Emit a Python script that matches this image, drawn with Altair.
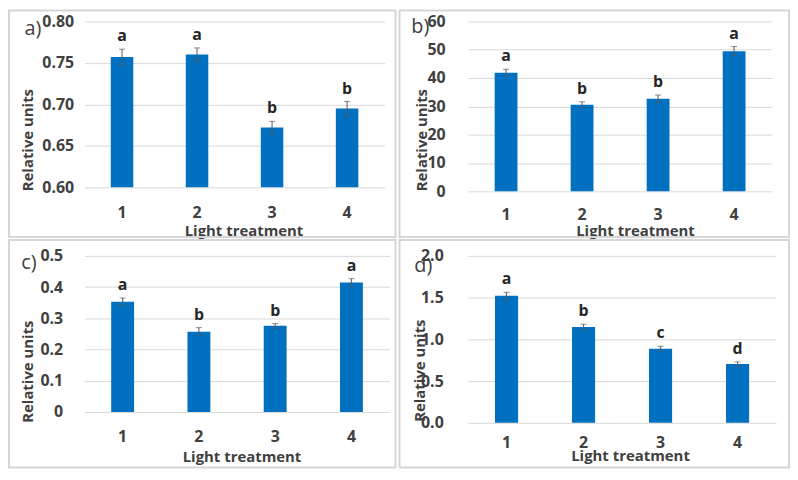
import altair as alt
import pandas as pd

treatments = ["1", "2", "3", "4"]

a_values = [0.757, 0.760, 0.672, 0.695]
a_errors = [0.0095, 0.008, 0.0075, 0.0085]
a_letters = ["a", "a", "b", "b"]
a_ticks = [0.60, 0.65, 0.70, 0.75, 0.80]

b_values = [41.9, 30.6, 32.7, 49.5]
b_errors = [1.2, 1.0, 1.3, 1.6]
b_letters = ["a", "b", "b", "a"]
b_ticks = [0, 10, 20, 30, 40, 50, 60]

c_values = [0.353, 0.257, 0.276, 0.415]
c_errors = [0.012, 0.013, 0.007, 0.012]
c_letters = ["a", "b", "b", "a"]
c_ticks = [0, 0.1, 0.2, 0.3, 0.4, 0.5]

d_values = [1.521, 1.148, 0.887, 0.705]
d_errors = [0.043, 0.033, 0.030, 0.025]
d_letters = ["a", "b", "c", "d"]
d_ticks = [0.0, 0.5, 1.0, 1.5, 2.0]

FONT = "Open Sans"
TEXT = "#404040"
BAR = "#0070C0"
GRID = "#D9D9D9"
ERR = "#595959"
BORDER = "#D6D6D6"


def panel(tag, values, errors, letters, ticks, fmt, w, h, lab_xy, box,
          ytitle_xy, xtitle_xy, ylabpad, xlabpad):
    df = pd.DataFrame({
        "t": treatments,
        "v": values,
        "lo": [v - e for v, e in zip(values, errors)],
        "hi": [v + e for v, e in zip(values, errors)],
        "letter": letters,
    })
    yscale = alt.Scale(domain=[ticks[0], ticks[-1]], nice=False, zero=False)
    yaxis = alt.Axis(values=ticks, format=fmt, grid=True, gridColor=GRID,
                     gridWidth=1, domain=False, ticks=False,
                     labelFont=FONT, labelFontSize=16, labelFontWeight="bold",
                     labelColor=TEXT, labelPadding=ylabpad,
                     titleFont=FONT, titleFontSize=15, titleFontWeight="bold",
                     titleColor=TEXT, titleX=ytitle_xy[0], titleY=ytitle_xy[1],
                     titleAngle=270, titleAlign="center", titleBaseline="middle")
    xaxis = alt.Axis(labelAngle=0, domain=False, ticks=False, grid=False,
                     labelFont=FONT, labelFontSize=16, labelFontWeight="bold",
                     labelColor=TEXT, labelPadding=xlabpad, labelBaseline="middle",
                     titleFont=FONT, titleFontSize=15, titleFontWeight="bold",
                     titleColor=TEXT, titleX=xtitle_xy[0], titleY=xtitle_xy[1],
                     titleAlign="center", titleBaseline="middle")
    x = alt.X("t:N", scale=alt.Scale(paddingInner=0.7, paddingOuter=0.35),
              axis=xaxis, title="Light treatment")

    def Y(field):
        return alt.Y(field, type="quantitative", scale=yscale, axis=yaxis,
                     title="Relative units")

    base = alt.Chart(df).encode(x=x)
    bars = base.mark_bar(color=BAR).encode(y=Y("v"), y2=alt.datum(ticks[0]))
    rule = base.mark_rule(color=ERR, strokeWidth=1).encode(y=Y("lo"), y2="hi:Q")
    cap_hi = base.mark_tick(color=ERR, size=6, thickness=1).encode(y=Y("hi"))
    cap_lo = base.mark_tick(color=ERR, size=6, thickness=1).encode(y=Y("lo"))
    letters_t = base.mark_text(font=FONT, fontSize=16, fontWeight="bold",
                               color="#262626", baseline="alphabetic",
                               dy=-8).encode(y=Y("hi"), text="letter:N")
    lab = alt.Chart(pd.DataFrame({"lab": [tag]})).mark_text(
        font=FONT, fontSize=20, color=TEXT, align="center", baseline="middle"
    ).encode(x=alt.value(lab_xy[0]), y=alt.value(lab_xy[1]), text="lab:N")
    border = alt.Chart(pd.DataFrame({"k": [0]})).mark_rect(
        fillOpacity=0, stroke=BORDER, strokeWidth=2
    ).encode(x=alt.value(box[0]), x2=alt.value(box[1]),
             y=alt.value(box[2]), y2=alt.value(box[3]))
    return alt.layer(border, bars, rule, cap_hi, cap_lo, letters_t, lab).properties(
        width=w, height=h)


pa = panel("a)", a_values, a_errors, a_letters, a_ticks, ".2f", 302, 167,
           (-52, 8), (-76, 313, -11, 217), (-57, 119), (160, 43), 11, 25)
pb = panel("b)", b_values, b_errors, b_letters, b_ticks, "d", 306, 171,
           (-48, 6), (-69, 323, -11, 217), (-47, 119), (168, 39), 23, 23)
pc = panel("c)", c_values, c_errors, c_letters, c_ticks, "~g", 307, 157,
           (-56, 7), (-76, 313, -16, 213), (-57, 116), (158, 45), 22, 25)
pd_ = panel("d)", d_values, d_errors, d_letters, d_ticks, ".1f", 310, 168,
            (-45, 10), (-69, 323, -16, 213), (-48.5, 115), (163, 33), 25, 20)

chart = alt.concat(pa, pb, pc, pd_, columns=2,
                   spacing={"row": 65, "column": 79}, bounds="flush").properties(
    padding=0
).configure_view(stroke=None)

chart.save("out.html", embed_options={"renderer": "svg", "actions": False})
